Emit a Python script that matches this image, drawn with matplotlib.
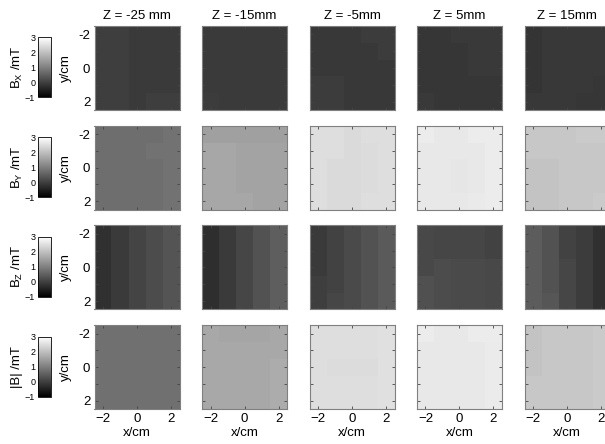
import numpy as np
import matplotlib
matplotlib.use('Agg')
import matplotlib.pyplot as plt

plt.rcParams['font.family'] = ['Liberation Sans', 'DejaVu Sans']
plt.rcParams['mathtext.default'] = 'regular'

# z positions of the five measurement planes
z_titles = ['Z = -25 mm', 'Z = -15mm', 'Z = -5mm', 'Z = 5mm', 'Z = 15mm']
row_labels = ['B$_X$ /mT', 'B$_Y$ /mT', 'B$_Z$ /mT', '|B| /mT']
grid_pos = [-2, -1, 0, 1, 2]   # cm, cell centres on x and y

# field maps in mT, rows are y = -2..2 (top to bottom), columns x = -2..2
bx = [
    [[-0.03, -0.03, -0.09, -0.09, -0.09],
     [-0.03, -0.03, -0.09, -0.09, -0.09],
     [-0.03, -0.03, -0.09, -0.09, -0.09],
     [-0.03, -0.03, -0.09, -0.09, -0.09],
     [-0.03, -0.03, -0.09, -0.03, -0.03]],
    [[-0.09, -0.09, -0.09, -0.09, -0.09],
     [-0.09, -0.09, -0.09, -0.09, -0.09],
     [-0.09, -0.09, -0.09, -0.09, -0.09],
     [-0.09, -0.09, -0.09, -0.09, -0.09],
     [-0.05, -0.09, -0.09, -0.09, -0.09]],
    [[-0.12, -0.12, -0.12, -0.06, -0.06],
     [-0.12, -0.12, -0.12, -0.12, -0.06],
     [-0.12, -0.12, -0.12, -0.12, -0.12],
     [-0.06, -0.06, -0.12, -0.12, -0.12],
     [-0.06, -0.06, -0.12, -0.12, -0.12]],
    [[-0.15, -0.15, -0.10, -0.10, -0.10],
     [-0.15, -0.15, -0.15, -0.10, -0.10],
     [-0.15, -0.15, -0.15, -0.10, -0.10],
     [-0.15, -0.15, -0.15, -0.15, -0.15],
     [-0.10, -0.15, -0.15, -0.15, -0.15]],
    [[-0.18, -0.12, -0.12, -0.12, -0.12],
     [-0.18, -0.12, -0.12, -0.12, -0.12],
     [-0.18, -0.12, -0.12, -0.12, -0.12],
     [-0.18, -0.12, -0.12, -0.12, -0.15],
     [-0.12, -0.12, -0.12, -0.15, -0.15]],
]

by = [
    [[0.73, 0.73, 0.73, 0.73, 0.79],
     [0.73, 0.73, 0.73, 0.79, 0.79],
     [0.73, 0.73, 0.73, 0.73, 0.79],
     [0.73, 0.73, 0.73, 0.73, 0.79],
     [0.73, 0.73, 0.73, 0.73, 0.79]],
    [[1.51, 1.51, 1.51, 1.51, 1.51],
     [1.62, 1.62, 1.56, 1.56, 1.56],
     [1.62, 1.62, 1.56, 1.56, 1.56],
     [1.62, 1.62, 1.56, 1.56, 1.56],
     [1.62, 1.62, 1.62, 1.56, 1.56]],
    [[2.47, 2.47, 2.42, 2.47, 2.47],
     [2.47, 2.47, 2.42, 2.45, 2.47],
     [2.47, 2.42, 2.42, 2.45, 2.47],
     [2.47, 2.42, 2.42, 2.45, 2.47],
     [2.47, 2.42, 2.42, 2.47, 2.47]],
    [[2.70, 2.64, 2.64, 2.70, 2.70],
     [2.64, 2.64, 2.64, 2.64, 2.70],
     [2.64, 2.64, 2.60, 2.64, 2.70],
     [2.64, 2.64, 2.60, 2.64, 2.70],
     [2.64, 2.64, 2.64, 2.67, 2.70]],
    [[2.11, 2.11, 2.11, 2.17, 2.17],
     [2.11, 2.11, 2.11, 2.11, 2.11],
     [2.06, 2.06, 2.11, 2.11, 2.11],
     [2.06, 2.06, 2.11, 2.11, 2.11],
     [2.06, 2.06, 2.11, 2.11, 2.17]],
]

bz = [
    [[-0.25, -0.09, 0.07, 0.19, 0.32],
     [-0.25, -0.09, 0.07, 0.19, 0.32],
     [-0.25, -0.09, 0.07, 0.19, 0.32],
     [-0.25, -0.09, 0.07, 0.19, 0.32],
     [-0.25, -0.09, 0.07, 0.19, 0.32]],
    [[-0.28, -0.09, 0.10, 0.29, 0.47],
     [-0.28, -0.09, 0.10, 0.29, 0.47],
     [-0.28, -0.09, 0.10, 0.29, 0.47],
     [-0.28, -0.09, 0.10, 0.29, 0.47],
     [-0.28, -0.09, 0.10, 0.29, 0.47]],
    [[-0.09, 0.04, 0.16, 0.29, 0.41],
     [-0.09, 0.04, 0.16, 0.29, 0.41],
     [-0.09, 0.04, 0.16, 0.29, 0.41],
     [-0.03, 0.04, 0.16, 0.29, 0.41],
     [-0.03, 0.10, 0.16, 0.29, 0.41]],
    [[0.13, 0.10, 0.10, 0.10, 0.04],
     [0.13, 0.10, 0.10, 0.10, 0.04],
     [0.13, 0.19, 0.16, 0.16, 0.13],
     [0.25, 0.19, 0.16, 0.16, 0.13],
     [0.25, 0.19, 0.16, 0.16, 0.13]],
    [[0.44, 0.29, 0.04, -0.06, -0.25],
     [0.44, 0.29, 0.04, -0.06, -0.25],
     [0.44, 0.29, 0.10, -0.06, -0.25],
     [0.44, 0.29, 0.10, -0.06, -0.25],
     [0.44, 0.35, 0.10, -0.06, -0.25]],
]

bmag = [
    [[0.76, 0.76, 0.76, 0.76, 0.76],
     [0.76, 0.76, 0.76, 0.76, 0.76],
     [0.76, 0.76, 0.76, 0.76, 0.76],
     [0.76, 0.76, 0.76, 0.76, 0.76],
     [0.76, 0.76, 0.76, 0.76, 0.76]],
    [[1.64, 1.58, 1.58, 1.58, 1.64],
     [1.64, 1.64, 1.64, 1.64, 1.64],
     [1.64, 1.64, 1.64, 1.64, 1.70],
     [1.64, 1.64, 1.64, 1.64, 1.70],
     [1.64, 1.64, 1.64, 1.64, 1.70]],
    [[2.47, 2.47, 2.47, 2.47, 2.51],
     [2.47, 2.47, 2.47, 2.47, 2.51],
     [2.47, 2.44, 2.44, 2.44, 2.51],
     [2.47, 2.47, 2.47, 2.47, 2.51],
     [2.47, 2.47, 2.47, 2.47, 2.51]],
    [[2.70, 2.64, 2.64, 2.70, 2.70],
     [2.64, 2.64, 2.64, 2.64, 2.68],
     [2.64, 2.64, 2.64, 2.64, 2.68],
     [2.64, 2.64, 2.64, 2.64, 2.68],
     [2.64, 2.64, 2.64, 2.64, 2.68]],
    [[2.06, 2.11, 2.11, 2.11, 2.17],
     [2.06, 2.11, 2.11, 2.11, 2.17],
     [2.06, 2.11, 2.11, 2.11, 2.17],
     [2.11, 2.11, 2.11, 2.11, 2.17],
     [2.11, 2.11, 2.11, 2.11, 2.17]],
]

fields = [bx, by, bz, bmag]
vmin, vmax = -1, 3

W, H = 605, 444
fig = plt.figure(figsize=(W / 100, H / 100), dpi=100)

def px_axes(left, top, width, height):
    # place an axes using pixel coordinates measured from the top left corner
    return fig.add_axes([left / W, (H - top - height) / H, width / W, height / H])

edge = 0.5
x_edges = np.array(grid_pos + [grid_pos[-1] + 1]) - edge

for r, field in enumerate(fields):
    top = 26 + 99.7 * r
    for c, grid in enumerate(field):
        ax = px_axes(94.5 + 107.5 * c, top, 85, 84)
        im = ax.pcolormesh(x_edges, x_edges, np.array(grid), cmap='gray',
                           vmin=vmin, vmax=vmax)
        ax.set_xlim(-2.5, 2.5)
        ax.set_ylim(2.5, -2.5)
        ax.set_xticks([-2, 0, 2])
        ax.set_yticks([-2, -1, 0, 1, 2])
        ax.tick_params(direction='in', length=2, width=0.6, color='#444444',
                       top=True, right=True, labelsize=9.5, pad=3)
        for s in ax.spines.values():
            s.set_color('#808080')
            s.set_linewidth(0.8)
        if c == 0:
            ax.set_yticklabels(['-2', '', '0', '', '2'])
            ax.set_ylabel('y/cm', fontsize=9.5, labelpad=5)
        else:
            ax.set_yticklabels([])
        if r == len(fields) - 1:
            ax.set_xlabel('x/cm', fontsize=9.5, labelpad=1)
        else:
            ax.set_xticklabels([])
        if r == 0:
            ax.set_title(z_titles[c], fontsize=9.5, pad=5)

    # colour bar for this row, labels on the left side
    cax = px_axes(38, top + 11.5, 13, 60)
    cb = fig.colorbar(im, cax=cax, ticks=[-1, 0, 1, 2, 3])
    cax.yaxis.set_ticks_position('left')
    cax.tick_params(labelsize=6.5, length=0, pad=2)
    cb.outline.set_linewidth(0.6)
    fig.text(17 / W, 1 - (top + 11.5 + 30) / H, row_labels[r], rotation=90,
             fontsize=9.5, ha='center', va='center')

fig.savefig('out.png', dpi=100)
